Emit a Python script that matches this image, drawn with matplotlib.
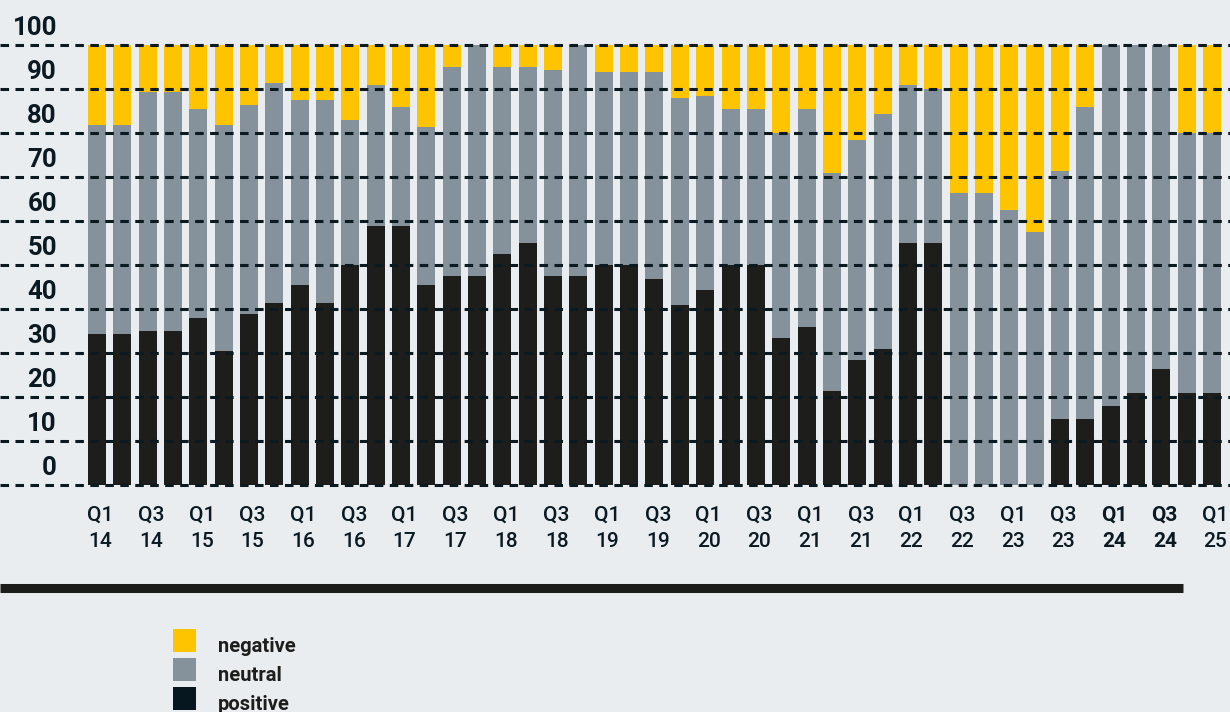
import matplotlib
matplotlib.use("Agg")
import matplotlib.pyplot as plt
from matplotlib.patches import Rectangle
from matplotlib.lines import Line2D
import numpy as np

plt.rcParams['font.family'] = ['Roboto', 'DejaVu Sans']

quarters = ["Q1\n14", "Q2\n14", "Q3\n14", "Q4\n14",
            "Q1\n15", "Q2\n15", "Q3\n15", "Q4\n15",
            "Q1\n16", "Q2\n16", "Q3\n16", "Q4\n16",
            "Q1\n17", "Q2\n17", "Q3\n17", "Q4\n17",
            "Q1\n18", "Q2\n18", "Q3\n18", "Q4\n18",
            "Q1\n19", "Q2\n19", "Q3\n19", "Q4\n19",
            "Q1\n20", "Q2\n20", "Q3\n20", "Q4\n20",
            "Q1\n21", "Q2\n21", "Q3\n21", "Q4\n21",
            "Q1\n22", "Q2\n22", "Q3\n22", "Q4\n22",
            "Q1\n23", "Q2\n23", "Q3\n23", "Q4\n23",
            "Q1\n24", "Q2\n24", "Q3\n24", "Q4\n24",
            "Q1\n25"]

positive = [34.5, 34.5, 35, 35, 38, 30.5, 39, 41.5, 45.5, 41.5, 50, 59, 59,
            45.5, 47.5, 47.5, 52.5, 55, 47.5, 47.5, 50, 50, 47, 41, 44.5, 50, 50,
            33.5, 36, 21.5, 28.5, 31, 55, 55, 0, 0, 0, 0, 15, 15, 18, 21, 26.5, 21, 21]
neutral = [47.5, 47.5, 54.5, 54.5, 47.5, 51.5, 47.5, 50, 42, 46, 33, 32, 27,
           36, 47.5, 52.5, 42.5, 40, 47, 52.5, 44, 44, 47, 47, 44, 35.5, 35.5,
           46.5, 49.5, 49.5, 50, 53.5, 36, 35, 66.5, 66.5, 62.5, 57.5, 56.5, 71, 82, 79, 73.5, 59, 59]
negative = [18, 18, 10.5, 10.5, 14.5, 18, 13.5, 8.5, 12.5, 12.5, 17, 9, 14,
            18.5, 5, 0, 5, 5, 5.5, 0, 6, 6, 6, 12, 11.5, 14.5, 14.5,
            20, 14.5, 29, 21.5, 15.5, 9, 10, 33.5, 33.5, 37.5, 42.5, 28.5, 14, 0, 0, 0, 20, 20]

bold_labels = ["Q1\n24", "Q3\n24"]
y_ticks = [0, 10, 20, 30, 40, 50, 60, 70, 80, 90, 100]
legend_labels = ["negative", "neutral", "positive"]

BG = "#E9EDF0"
C_NEG = "#FFC400"
C_NEU = "#85929B"
C_POS = "#1D1D1B"
C_POS_LEG = "#07171F"
C_TXT = "#0B1A22"
C_GRID = "#0B1A20"

W, H = 1230, 712
fig = plt.figure(figsize=(W / 100, H / 100), dpi=100, facecolor=BG)

# pixel geometry
y0_px = 485.3
px_per_unit = 4.4
ylo, yhi = -1, 101
bot_px = y0_px - ylo * px_per_unit
top_px = y0_px - yhi * px_per_unit
ax = fig.add_axes([0, (H - bot_px) / H, 1, (bot_px - top_px) / H])
ax.set_facecolor(BG)

n = len(quarters)
x = np.arange(n)
step_px = 25.34
first_center_px = 97
ax.set_xlim(-first_center_px / step_px, (W - first_center_px) / step_px)
ax.set_ylim(ylo, yhi)

pos = np.array(positive)
neu = np.array(neutral)
neg = np.array(negative)
bw = 18 / step_px
ax.bar(x, pos, width=bw, color=C_POS, zorder=2, linewidth=0)
ax.bar(x, neu, width=bw, bottom=pos, color=C_NEU, zorder=2, linewidth=0)
ax.bar(x, neg, width=bw, bottom=pos + neu, color=C_NEG, zorder=2, linewidth=0)

for v in y_ticks:
    ax.axhline(v, color=C_GRID, lw=2.2, linestyle=(0, (2.8, 2.1)), zorder=3,
               dash_capstyle='butt')
    ax.text(57 / W, v + 10.5 / px_per_unit, str(v), transform=ax.get_yaxis_transform(),
            ha='right', va='baseline', fontsize=18.5, fontweight='bold', color=C_TXT)

for s in ax.spines.values():
    s.set_visible(False)
ax.set_xticks([])
ax.set_yticks([])

# x labels every other quarter (two lines, placed separately)
base1 = (y0_px - 521) / px_per_unit
base2 = (y0_px - 547) / px_per_unit
for i in range(0, n, 2):
    lab = quarters[i]
    l1, l2 = lab.split("\n")
    wt = 'bold' if lab in bold_labels else 'medium'
    for txt, b in ((l1, base1), (l2, base2)):
        ax.text(x[i] + 3.5 / step_px, b, txt, ha='center', va='baseline', fontsize=15,
                fontweight=wt, color=C_TXT, clip_on=False)

# thick separator line
fig.add_artist(Line2D([0, 1183 / W], [(H - 588) / H] * 2, color=C_POS,
                      lw=6.5, solid_capstyle='butt'))

# legend
leg_colors = [C_NEG, C_NEU, C_POS_LEG]
for k, (lab, c) in enumerate(zip(legend_labels, leg_colors)):
    top = 629 + 29 * k
    fig.add_artist(Rectangle((173 / W, (H - top - 23) / H), 23 / W, 23 / H,
                             facecolor=c, edgecolor='none'))
    fig.text(218 / W, (H - (top + 23)) / H, lab, ha='left', va='baseline',
             fontsize=14.5, fontweight='bold', color='#1D1D1B')

fig.savefig("out.png", dpi=100, facecolor=BG)
